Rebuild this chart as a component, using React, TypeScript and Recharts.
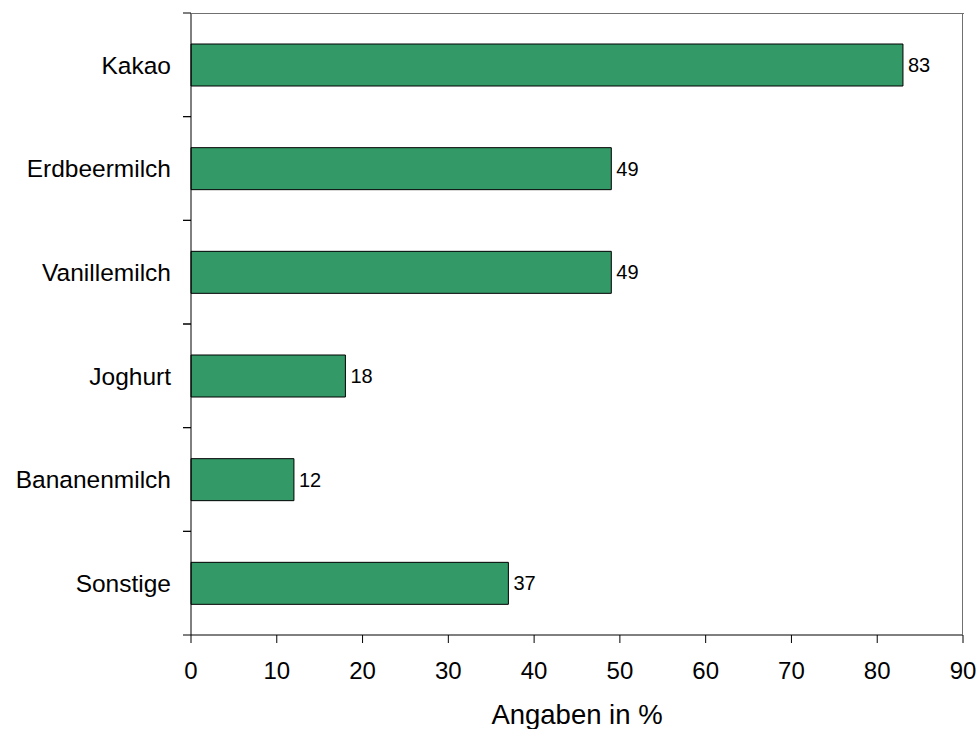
import React from 'react';
import { BarChart, Bar, XAxis, YAxis, LabelList, Label } from 'recharts';

const categories = ['Kakao', 'Erdbeermilch', 'Vanillemilch', 'Joghurt', 'Bananenmilch', 'Sonstige'];
const values = [83, 49, 49, 18, 12, 37];
const xTicks = [0, 10, 20, 30, 40, 50, 60, 70, 80, 90];

const data = categories.map((name, i) => ({ name, value: values[i] }));

const FONT = 'Arial, "Liberation Sans", sans-serif';
const CHART_W = 977;
const CHART_H = 729;
const MARGIN = { top: 13, right: 14, bottom: 0, left: 0 };
const Y_TICK_SIZE = 8;
const Y_TICK_MARGIN = 12;
const FRAME = '#707070';

const YTick = (props: any) => {
  const { x, y, payload, index } = props;
  const half = payload && payload.offset ? payload.offset : 0;
  const axisX = x + Y_TICK_MARGIN;
  const rightX = CHART_W - MARGIN.right;
  return (
    <g>
      {index === 0 && (
        <line x1={axisX} x2={rightX + 0.5} y1={y - half + 0.5} y2={y - half + 0.5} stroke={FRAME} strokeWidth={1.5} shapeRendering="crispEdges" />
      )}
      <line x1={rightX - 0.5} x2={rightX - 0.5} y1={y - half} y2={y + half} stroke={FRAME} strokeWidth={1.5} shapeRendering="crispEdges" />
      <line x1={axisX - Y_TICK_SIZE} x2={axisX} y1={y - half} y2={y - half} stroke="#000" />
      <line x1={axisX - Y_TICK_SIZE} x2={axisX} y1={y + half} y2={y + half} stroke="#000" />
      <text x={x - Y_TICK_SIZE} y={y} dy="0.355em" textAnchor="end" fontSize={24.5} fontFamily={FONT} fill="#000">
        {payload.value}
      </text>
    </g>
  );
};

export default function App() {
  return (
    <div style={{ position: 'absolute', left: 0, top: 0, background: '#fff' }}>
      <BarChart
        width={CHART_W}
        height={CHART_H}
        data={data}
        layout="vertical"
        margin={MARGIN}
        barSize={42}
      >
        <XAxis
          type="number"
          domain={[0, 90]}
          ticks={xTicks}
          height={94}
          tickSize={8}
          tickMargin={19}
          axisLine={{ stroke: '#000' }}
          tickLine={{ stroke: '#000' }}
          tick={{ fontSize: 24, fontFamily: FONT, fill: '#000' }}
        >
          <Label value="Angaben in %" position="insideBottom" offset={5} fontSize={27.5} fontFamily={FONT} fill="#000" />
        </XAxis>
        <YAxis
          type="category"
          dataKey="name"
          width={191}
          tickSize={0}
          tickMargin={Y_TICK_MARGIN}
          tickLine={false}
          axisLine={{ stroke: '#000' }}
          tick={<YTick />}
          interval={0}
        />
        <Bar dataKey="value" fill="#339966" stroke="#000" strokeWidth={1} isAnimationActive={false}>
          <LabelList dataKey="value" position="right" offset={5} fontSize={20} fontFamily={FONT} fill="#000" />
        </Bar>
      </BarChart>
    </div>
  );
}
